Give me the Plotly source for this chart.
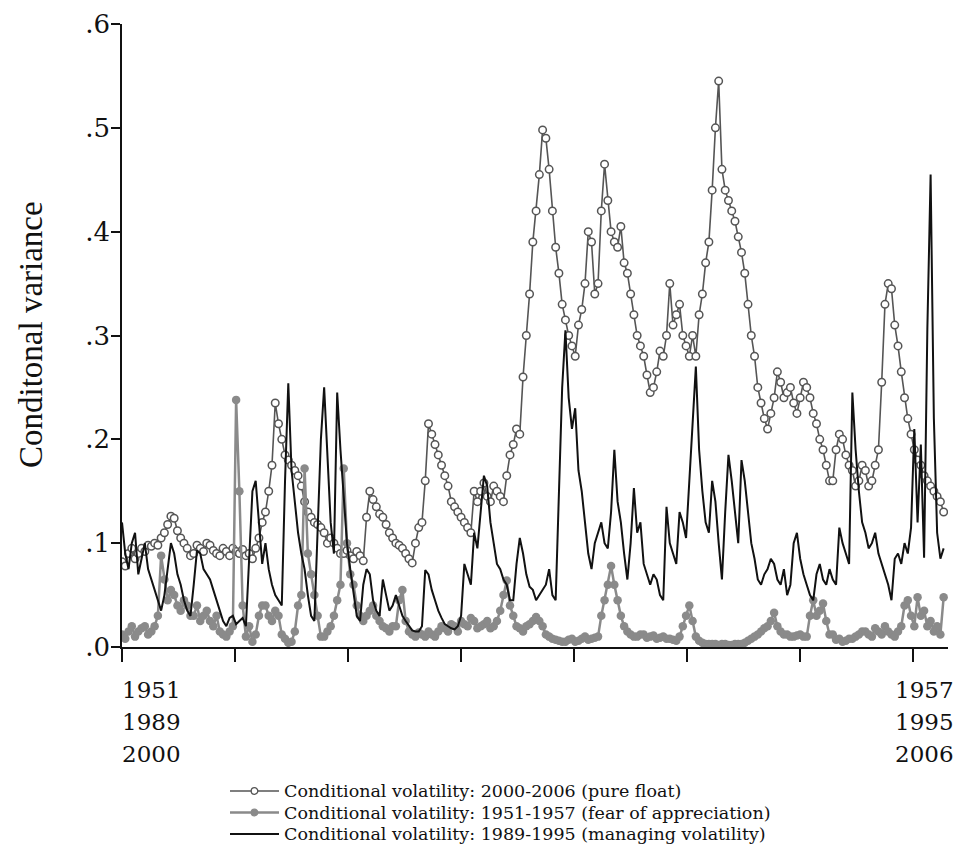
import plotly.graph_objects as go

# x positions: weeks since the start of each 7-year window (a reading every 1.5 weeks)
weeks = [i * 1.5 for i in range(253)]

# Conditional volatility 2000-2006 (pure float)
pure_float = [
    0.082, 0.078, 0.090, 0.095, 0.085, 0.090, 0.095, 0.092, 0.098, 0.097,
    0.100, 0.098, 0.105, 0.110, 0.118, 0.126, 0.124, 0.112, 0.105, 0.100,
    0.095, 0.088, 0.090, 0.098, 0.095, 0.092, 0.100, 0.098, 0.093, 0.090,
    0.088, 0.095, 0.092, 0.088, 0.095, 0.092, 0.090, 0.094, 0.088, 0.090,
    0.085, 0.095, 0.105, 0.120, 0.130, 0.150, 0.175, 0.235, 0.215, 0.200,
    0.185, 0.180, 0.175, 0.170, 0.165, 0.155, 0.140, 0.130, 0.125, 0.120,
    0.118, 0.115, 0.110, 0.100, 0.105, 0.100, 0.095, 0.090, 0.090, 0.093,
    0.088, 0.085, 0.092, 0.088, 0.083, 0.125, 0.150, 0.142, 0.135, 0.128,
    0.125, 0.118, 0.110, 0.105, 0.100, 0.098, 0.095, 0.090, 0.085, 0.081,
    0.100, 0.115, 0.120, 0.160, 0.215, 0.205, 0.195, 0.185, 0.175, 0.165,
    0.155, 0.140, 0.135, 0.130, 0.125, 0.120, 0.115, 0.110, 0.150, 0.140,
    0.150, 0.158, 0.145, 0.140, 0.155, 0.150, 0.145, 0.140, 0.165, 0.185,
    0.195, 0.210, 0.205, 0.260, 0.300, 0.340, 0.390, 0.420, 0.455, 0.498,
    0.490, 0.460, 0.420, 0.385, 0.360, 0.330, 0.315, 0.300, 0.290, 0.280,
    0.310, 0.325, 0.350, 0.400, 0.390, 0.340, 0.350, 0.420, 0.465, 0.430,
    0.400, 0.390, 0.385, 0.405, 0.370, 0.360, 0.340, 0.320, 0.300, 0.290,
    0.280, 0.262, 0.245, 0.250, 0.265, 0.285, 0.280, 0.300, 0.350, 0.310,
    0.320, 0.330, 0.300, 0.290, 0.280, 0.300, 0.280, 0.320, 0.340, 0.370,
    0.390, 0.440, 0.500, 0.545, 0.460, 0.440, 0.430, 0.420, 0.410, 0.395,
    0.380, 0.360, 0.330, 0.300, 0.280, 0.250, 0.235, 0.220, 0.210, 0.225,
    0.240, 0.265, 0.255, 0.240, 0.245, 0.250, 0.235, 0.225, 0.240, 0.255,
    0.250, 0.240, 0.225, 0.215, 0.200, 0.190, 0.175, 0.160, 0.160, 0.190,
    0.205, 0.200, 0.185, 0.175, 0.170, 0.155, 0.160, 0.175, 0.170, 0.155,
    0.160, 0.175, 0.190, 0.255, 0.330, 0.350, 0.345, 0.310, 0.290, 0.265,
    0.240, 0.220, 0.205, 0.190, 0.180, 0.175, 0.165, 0.160, 0.155, 0.150,
    0.145, 0.140, 0.130,
]

# Conditional volatility 1951-1957 (fear of appreciation)
fear_appreciation = [
    0.012, 0.008, 0.015, 0.020, 0.010, 0.015, 0.018, 0.020, 0.012, 0.015,
    0.020, 0.030, 0.088, 0.065, 0.045, 0.055, 0.050, 0.040, 0.035, 0.045,
    0.040, 0.030, 0.030, 0.040, 0.025, 0.030, 0.035, 0.025, 0.020, 0.030,
    0.015, 0.012, 0.010, 0.015, 0.020, 0.238, 0.150, 0.040, 0.010, 0.020,
    0.005, 0.012, 0.030, 0.040, 0.040, 0.030, 0.025, 0.035, 0.030, 0.012,
    0.008, 0.004, 0.005, 0.015, 0.040, 0.050, 0.172, 0.090, 0.070, 0.050,
    0.030, 0.010, 0.010, 0.015, 0.020, 0.030, 0.045, 0.060, 0.172, 0.100,
    0.070, 0.060, 0.040, 0.030, 0.025, 0.030, 0.035, 0.040, 0.030, 0.025,
    0.020, 0.018, 0.015, 0.020, 0.020, 0.045, 0.055, 0.025, 0.015, 0.012,
    0.010, 0.014, 0.012, 0.010, 0.015, 0.012, 0.010, 0.015, 0.020, 0.018,
    0.015, 0.022, 0.020, 0.015, 0.025, 0.022, 0.020, 0.028, 0.025, 0.018,
    0.020, 0.022, 0.025, 0.018, 0.020, 0.025, 0.035, 0.050, 0.064, 0.040,
    0.030, 0.020, 0.018, 0.015, 0.020, 0.022, 0.025, 0.029, 0.025, 0.020,
    0.012, 0.010, 0.008, 0.007, 0.006, 0.005, 0.005, 0.007, 0.008, 0.005,
    0.006, 0.008, 0.010, 0.007, 0.008, 0.009, 0.010, 0.030, 0.045, 0.060,
    0.078, 0.060, 0.045, 0.030, 0.020, 0.015, 0.012, 0.010, 0.010, 0.012,
    0.012, 0.009, 0.010, 0.011, 0.008, 0.009, 0.010, 0.008, 0.008, 0.007,
    0.006, 0.010, 0.020, 0.030, 0.040, 0.025, 0.010, 0.006, 0.004, 0.003,
    0.003, 0.003, 0.003, 0.002, 0.003, 0.003, 0.002, 0.002, 0.003, 0.003,
    0.003, 0.004, 0.006, 0.008, 0.010, 0.012, 0.015, 0.018, 0.020, 0.025,
    0.033, 0.020, 0.015, 0.012, 0.012, 0.010, 0.010, 0.011, 0.012, 0.010,
    0.010, 0.030, 0.045, 0.030, 0.035, 0.042, 0.025, 0.012, 0.012, 0.007,
    0.008, 0.005, 0.006, 0.008, 0.008, 0.010, 0.012, 0.015, 0.015, 0.012,
    0.010, 0.018, 0.015, 0.012, 0.020, 0.015, 0.012, 0.010, 0.015, 0.020,
    0.040, 0.045, 0.030, 0.020, 0.048, 0.030, 0.035, 0.020, 0.025, 0.015,
    0.020, 0.012, 0.048,
]

# Conditional volatility 1989-1995 (managing volatility)
managing_vol = [
    0.120, 0.090, 0.075, 0.100, 0.110, 0.070, 0.085, 0.100, 0.075, 0.065,
    0.055, 0.045, 0.035, 0.050, 0.075, 0.100, 0.090, 0.070, 0.060, 0.045,
    0.035, 0.030, 0.060, 0.093, 0.090, 0.075, 0.070, 0.065, 0.055, 0.045,
    0.035, 0.025, 0.020, 0.028, 0.030, 0.022, 0.025, 0.028, 0.020, 0.090,
    0.150, 0.160, 0.120, 0.080, 0.100, 0.075, 0.060, 0.050, 0.045, 0.040,
    0.160, 0.254, 0.170, 0.140, 0.110, 0.090, 0.075, 0.050, 0.030, 0.025,
    0.120, 0.200, 0.250, 0.180, 0.120, 0.090, 0.245, 0.190, 0.140, 0.100,
    0.075, 0.050, 0.030, 0.025, 0.060, 0.075, 0.070, 0.045, 0.035, 0.030,
    0.065, 0.050, 0.035, 0.040, 0.050, 0.040, 0.030, 0.025, 0.020, 0.016,
    0.015, 0.015, 0.020, 0.074, 0.070, 0.055, 0.045, 0.035, 0.028, 0.022,
    0.020, 0.018, 0.017, 0.020, 0.030, 0.080, 0.070, 0.060, 0.110, 0.095,
    0.130, 0.165, 0.155, 0.120, 0.100, 0.080, 0.075, 0.065, 0.060, 0.045,
    0.045, 0.080, 0.105, 0.090, 0.070, 0.058, 0.055, 0.045, 0.050, 0.055,
    0.060, 0.075, 0.050, 0.045, 0.140, 0.250, 0.305, 0.240, 0.210, 0.230,
    0.170, 0.150, 0.120, 0.090, 0.075, 0.100, 0.110, 0.120, 0.100, 0.095,
    0.130, 0.190, 0.140, 0.120, 0.090, 0.065, 0.100, 0.153, 0.110, 0.120,
    0.080, 0.070, 0.060, 0.070, 0.065, 0.050, 0.045, 0.135, 0.100, 0.090,
    0.080, 0.130, 0.120, 0.105, 0.160, 0.220, 0.270, 0.190, 0.150, 0.120,
    0.110, 0.160, 0.140, 0.100, 0.065, 0.130, 0.185, 0.160, 0.130, 0.100,
    0.180, 0.160, 0.130, 0.100, 0.085, 0.065, 0.060, 0.070, 0.075, 0.085,
    0.080, 0.065, 0.060, 0.075, 0.050, 0.060, 0.100, 0.110, 0.085, 0.070,
    0.060, 0.050, 0.045, 0.070, 0.080, 0.065, 0.060, 0.075, 0.065, 0.060,
    0.115, 0.100, 0.090, 0.080, 0.245, 0.190, 0.150, 0.120, 0.110, 0.095,
    0.100, 0.110, 0.090, 0.080, 0.070, 0.060, 0.045, 0.085, 0.090, 0.080,
    0.100, 0.090, 0.115, 0.210, 0.120, 0.195, 0.086, 0.306, 0.455, 0.220,
    0.110, 0.085, 0.095,
]

series_names = [
    "Conditional volatility: 2000-2006 (pure float)",
    "Conditional volatility: 1951-1957 (fear of appreciation)",
    "Conditional volatility: 1989-1995 (managing volatility)",
]
y_tickvals = [0, 0.1, 0.2, 0.3, 0.4, 0.5, 0.6]
y_ticktext = [".0", ".1", ".2", ".3", ".4", ".5", ".6"]
x_tickvals = [0, 52, 104, 156, 208, 260, 312, 364]
x_start_labels = ["1951", "1989", "2000"]
x_end_labels = ["1957", "1995", "2006"]

SERIF = "Liberation Serif, Times New Roman, serif"
WIDE_SERIF = "DejaVu Serif, serif"
C_FLOAT = "#555555"
C_FEAR = "#8a8a8a"
C_MANAGE = "#111111"

fig = go.Figure()
fig.add_trace(go.Scatter(
    x=weeks, y=pure_float, mode="lines+markers", name=series_names[0],
    line=dict(color=C_FLOAT, width=1.6),
    marker=dict(symbol="circle", size=7.5, color="white",
                line=dict(color=C_FLOAT, width=1.5)),
))
fig.add_trace(go.Scatter(
    x=weeks, y=fear_appreciation, mode="lines+markers", name=series_names[1],
    line=dict(color=C_FEAR, width=2.5),
    marker=dict(symbol="circle", size=8.5, color=C_FEAR),
))
fig.add_trace(go.Scatter(
    x=weeks, y=managing_vol, mode="lines", name=series_names[2],
    line=dict(color=C_MANAGE, width=2),
))

# page pixels of the plot area (the page body adds an 8px offset)
PW, PH, L, B = 826.0, 623.0, 122.0, 647.0
def px_x(p):
    return (p - L) / PW
def px_y(p):
    return (B - p) / PH

annotations = []
shapes = []

# ---- hand-placed legend (tight rows like the original) ----
legend_rows = [791, 812.5, 834]
styles = [("open", C_FLOAT, 1.6), ("filled", C_FEAR, 2.5), ("none", C_MANAGE, 2)]
for name, row, (mk, col, lw) in zip(series_names, legend_rows, styles):
    shapes.append(dict(type="line", xref="paper", yref="paper",
                       x0=px_x(230), x1=px_x(279), y0=px_y(row), y1=px_y(row),
                       line=dict(color=col, width=lw)))
    if mk != "none":
        r = 3.3
        shapes.append(dict(type="circle", xref="paper", yref="paper",
                           x0=px_x(254.5 - r), x1=px_x(254.5 + r),
                           y0=px_y(row + r), y1=px_y(row - r),
                           fillcolor="white" if mk == "open" else col,
                           line=dict(color=col, width=1.3)))
    annotations.append(dict(x=px_x(282), y=px_y(row), xref="paper", yref="paper",
                            text=name, showarrow=False, xanchor="left",
                            yanchor="middle",
                            font=dict(family=WIDE_SERIF, size=17.5, color="#111111")))

# ---- x labels for the first and last tick (three stacked years) ----
for k, row in enumerate([690, 722, 754]):
    annotations.append(dict(x=px_x(120), y=px_y(row), xref="paper", yref="paper",
                            text=x_start_labels[k], showarrow=False,
                            xanchor="left", yanchor="middle",
                            font=dict(family=WIDE_SERIF, size=23, color="#111111")))
    annotations.append(dict(x=px_x(956), y=px_y(row), xref="paper", yref="paper",
                            text=x_end_labels[k], showarrow=False,
                            xanchor="right", yanchor="middle",
                            font=dict(family=WIDE_SERIF, size=23, color="#111111")))

# ---- y axis title ----
annotations.append(dict(x=px_x(31), y=px_y(335), xref="paper", yref="paper",
                        text="Conditonal variance", showarrow=False,
                        textangle=-90, xanchor="center", yanchor="middle",
                        font=dict(family=SERIF, size=33, color="#111111")))

fig.update_layout(
    width=950, height=838,
    margin=dict(l=114, r=10, t=16, b=199, autoexpand=False),
    paper_bgcolor="white", plot_bgcolor="white",
    font=dict(family=SERIF, color="#111111"),
    showlegend=False,
    xaxis=dict(
        range=[0, 380], showgrid=False, zeroline=False, automargin=False,
        showline=True, linecolor="#111111", linewidth=1.5,
        ticks="outside", ticklen=13, tickwidth=1.5, tickcolor="#111111",
        tickvals=x_tickvals, ticktext=[""] * len(x_tickvals),
    ),
    yaxis=dict(
        range=[0, 0.6], showgrid=False, zeroline=False, automargin=False,
        showline=True, linecolor="#111111", linewidth=1.5,
        ticks="outside", ticklen=9, tickwidth=1.5, tickcolor="#111111",
        tickvals=y_tickvals, ticktext=y_ticktext, ticklabelstandoff=-4,
        ticklabeloverflow="allow",
        tickfont=dict(family=WIDE_SERIF, size=26, color="#111111"),
    ),
    annotations=annotations,
    shapes=shapes,
)

fig.write_html("out.html")
